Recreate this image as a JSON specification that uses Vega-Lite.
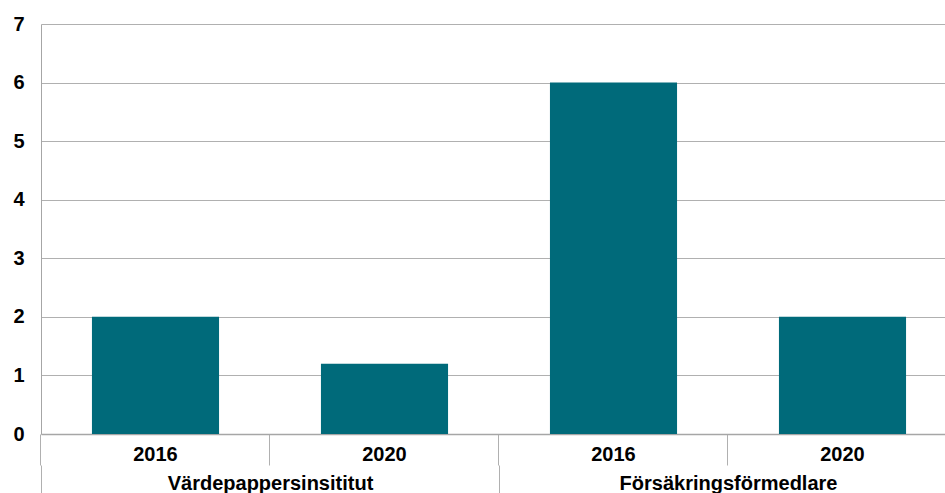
{
  "$schema": "https://vega.github.io/schema/vega-lite/v6.json",
  "autosize": {"type": "none"},
  "width": 904,
  "height": 410,
  "padding": {"left": 41, "top": 24, "right": 0, "bottom": 59},
  "background": "white",
  "config": {
    "view": {"stroke": null},
    "font": "Liberation Sans"
  },
  "data": {
    "values": [
      {"group": "Värdepappersinsititut", "year": "2016", "key": "A-2016", "value": 2},
      {"group": "Värdepappersinsititut", "year": "2020", "key": "B-2020", "value": 1.2},
      {"group": "Försäkringsförmedlare", "year": "2016", "key": "C-2016", "value": 6},
      {"group": "Försäkringsförmedlare", "year": "2020", "key": "D-2020", "value": 2}
    ]
  },
  "layer": [
    {
      "mark": {"type": "bar", "color": "#006a7a"},
      "encoding": {
        "x": {
          "field": "key",
          "type": "nominal",
          "sort": null,
          "scale": {"range": [0, 916], "paddingInner": 0.445, "paddingOuter": 0.2225},
          "axis": {
            "title": null,
            "orient": "bottom",
            "labelAngle": 0,
            "labelExpr": "slice(datum.label, -4)",
            "labelFont": "Liberation Sans",
            "labelFontSize": 20,
            "labelFontWeight": "bold",
            "labelColor": "#000000",
            "labelBaseline": "alphabetic",
            "bandPosition": -0.401,
            "ticks": true,
            "tickSize": 31,
            "tickColor": "#b0b0b0",
            "tickWidth": 1,
            "labelPadding": -5,
            "domain": true,
            "domainColor": "#a6a6a6",
            "domainWidth": 1.5,
            "grid": false
          }
        },
        "y": {
          "field": "value",
          "type": "quantitative",
          "scale": {"domain": [0, 7], "nice": false},
          "axis": {
            "title": null,
            "values": [0, 1, 2, 3, 4, 5, 6, 7],
            "format": "d",
            "labelFont": "Liberation Sans",
            "labelFontSize": 20,
            "labelFontWeight": "bold",
            "labelColor": "#000000",
            "labelPadding": 17,
            "ticks": false,
            "domain": true,
            "domainColor": "#a6a6a6",
            "domainWidth": 1,
            "grid": true,
            "gridColor": "#b0b0b0",
            "gridWidth": 1
          }
        }
      }
    },
    {
      "mark": {"type": "text", "text": ""},
      "encoding": {
        "x": {
          "field": "group",
          "type": "nominal",
          "sort": null,
          "scale": {"range": [0, 916], "paddingInner": 0, "paddingOuter": 0},
          "axis": {
            "title": null,
            "orient": "bottom",
            "offset": 31,
            "labelAngle": 0,
            "labelLimit": 0,
            "labelFont": "Liberation Sans",
            "labelFontSize": 20,
            "labelFontWeight": "bold",
            "labelColor": "#000000",
            "labelBaseline": "alphabetic",
            "tickBand": "extent",
            "ticks": true,
            "tickSize": 28,
            "tickColor": "#b0b0b0",
            "tickWidth": 1,
            "labelPadding": -4,
            "domain": false,
            "grid": false
          }
        },
        "y": {"datum": 0, "type": "quantitative"}
      }
    }
  ],
  "resolve": {"scale": {"x": "independent"}, "axis": {"x": "independent"}}
}
